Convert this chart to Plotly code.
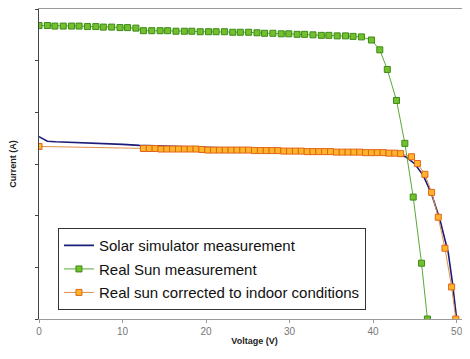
import plotly.graph_objects as go

# Solar simulator measurement (blue line)
sim_v = [0, 0.3, 1, 2, 4, 6, 8, 10, 12, 14, 16, 18, 20, 22, 24, 26, 28, 30, 32, 34, 36, 38, 40,
         42, 43, 44, 45, 46, 47, 48, 49, 49.5, 50]
sim_i = [3.53, 3.50, 3.44, 3.43, 3.42, 3.41, 3.40, 3.38, 3.36, 3.35, 3.34, 3.33, 3.32, 3.31, 3.31,
         3.29, 3.28, 3.27, 3.26, 3.25, 3.24, 3.23, 3.22, 3.21, 3.19, 3.13, 3.00, 2.78, 2.42, 1.92,
         1.28, 0.70, 0.0]

# Real Sun measurement (green squares)
sun_v = [0, 1.0, 1.9, 2.9, 3.9, 4.8, 5.8, 6.8, 7.7, 8.7, 9.7, 10.6, 11.6, 12.5, 13.5, 14.5, 15.4,
         16.4, 17.4, 18.3, 19.3, 20.3, 21.2, 22.2, 23.2, 24.1, 25.1, 26.1, 27.0, 28.0, 29.0, 29.9,
         30.9, 31.8, 32.8, 33.8, 34.7, 35.7, 36.7, 37.6, 38.6, 39.8, 40.8, 41.7, 42.8, 43.8, 44.8,
         45.8, 46.5]
sun_i = [5.68, 5.68, 5.67, 5.67, 5.67, 5.67, 5.66, 5.66, 5.65, 5.65, 5.64, 5.64, 5.63, 5.58, 5.58,
         5.58, 5.58, 5.57, 5.57, 5.57, 5.56, 5.56, 5.56, 5.56, 5.55, 5.55, 5.55, 5.54, 5.53, 5.53,
         5.52, 5.52, 5.51, 5.51, 5.50, 5.49, 5.49, 5.48, 5.48, 5.47, 5.46, 5.40, 5.21, 4.83, 4.23,
         3.40, 2.36, 1.08, 0.0]

# Real sun corrected to indoor conditions (orange squares)
cor_v = [0, 12.5, 13.2, 13.9, 14.6, 15.3, 16.0, 16.7, 17.4, 18.1, 18.8, 19.5, 20.2, 20.9, 21.6,
         22.3, 23.0, 23.7, 24.4, 25.1, 25.8, 26.5, 27.2, 27.9, 28.6, 29.3, 30.0, 30.7, 31.4, 32.1,
         32.8, 33.5, 34.2, 34.9, 35.6, 36.3, 37.0, 37.7, 38.4, 39.1, 39.8, 40.5, 41.2, 41.9, 42.6,
         43.3, 44.6, 45.3, 46.2, 47.0, 47.8, 48.6, 49.4, 49.9]
cor_i = [3.34, 3.30, 3.30, 3.30, 3.29, 3.29, 3.29, 3.29, 3.29, 3.29, 3.29, 3.28, 3.27, 3.27, 3.27,
         3.27, 3.27, 3.27, 3.27, 3.27, 3.26, 3.26, 3.26, 3.26, 3.26, 3.25, 3.25, 3.25, 3.25, 3.24,
         3.24, 3.24, 3.24, 3.24, 3.23, 3.23, 3.23, 3.23, 3.23, 3.22, 3.22, 3.22, 3.22, 3.21, 3.21,
         3.20, 3.14, 3.01, 2.80, 2.45, 1.97, 1.37, 0.62, 0.0]

fig = go.Figure()
fig.add_trace(go.Scatter(
    x=sim_v, y=sim_i, mode="lines", name="Solar simulator measurement",
    line=dict(color="#1c1c7a", width=1.6), legendgroup="a"))
fig.add_trace(go.Scatter(
    x=sun_v, y=sun_i, mode="lines+markers", name="Real Sun measurement",
    line=dict(color="#5aa838", width=1),
    marker=dict(symbol="square", size=6, color="#72c02c", line=dict(color="#3d8a18", width=1)),
    legendgroup="b"))
fig.add_trace(go.Scatter(
    x=cor_v, y=cor_i, mode="lines+markers", name="Real sun corrected to indoor conditions",
    line=dict(color="#e0904a", width=1),
    marker=dict(symbol="square", size=6, color="#ffb52a", line=dict(color="#e0641a", width=1)),
    legendgroup="c"))

# the page body has an 8px default margin, so the figure is sized to fit the window
fig.update_layout(
    width=462, height=351,
    margin=dict(l=31, r=0, t=1, b=40, autoexpand=False),
    paper_bgcolor="white", plot_bgcolor="white",
    font=dict(family="Liberation Sans, Arial, sans-serif"),
    showlegend=True,
    legend=dict(
        x=0.044, y=0.293, xanchor="left", yanchor="top",
        bgcolor="white", bordercolor="#333333", borderwidth=1,
        font=dict(size=15, color="#111111"),
        tracegroupgap=1, itemwidth=30,
        entrywidth=275, entrywidthmode="pixels",
    ),
    xaxis=dict(
        range=[0, 51.6], dtick=10, tick0=0, automargin=False,
        showline=True, linecolor="#9a9a9a", linewidth=1, mirror=True,
        ticks="outside", ticklen=3, tickcolor="#9a9a9a",
        showgrid=False, zeroline=False,
        tickfont=dict(size=10, color="#777777"),
        title=dict(text="<b>Voltage (V)</b>", font=dict(size=9, color="#222222"), standoff=1),
    ),
    yaxis=dict(
        range=[0, 6], dtick=1, automargin=False,
        showline=True, linecolor="#444444", linewidth=1,
        ticks="outside", ticklen=3, tickcolor="#444444",
        showticklabels=False, showgrid=False, zeroline=False,
        title=dict(text="<b>Current (A)</b>", font=dict(size=9, color="#222222"), standoff=17),
    ),
)

fig.write_html("out.html")
